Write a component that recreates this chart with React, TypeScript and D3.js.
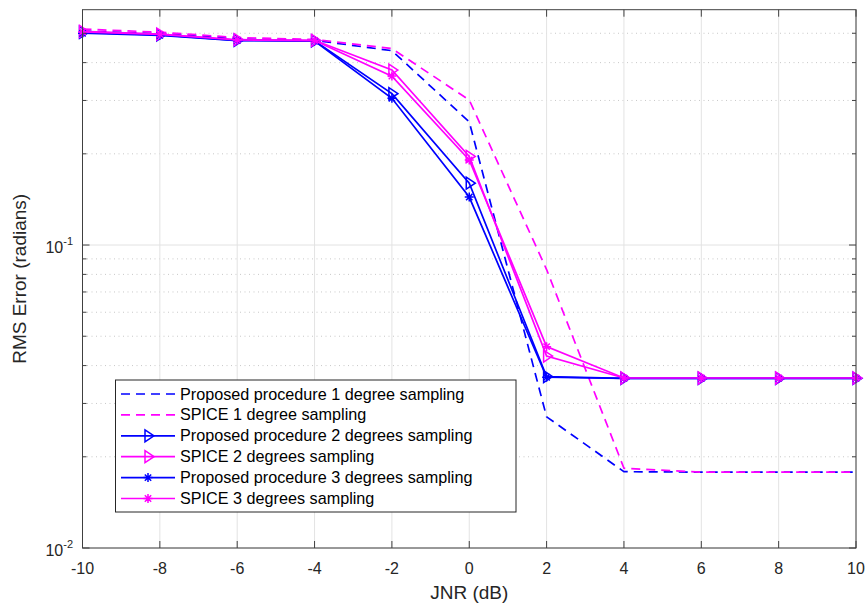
import React from "react";
import * as d3 from "d3";

const jnr = [-10, -8, -6, -4, -2, 0, 2, 4, 6, 8, 10];
const proposed1 = [0.508, 0.499, 0.479, 0.474, 0.438, 0.255, 0.0271, 0.01786, 0.0178, 0.0178, 0.0178];
const spice1 = [0.516, 0.504, 0.484, 0.477, 0.445, 0.301, 0.083, 0.01833, 0.0178, 0.0178, 0.0178];
const proposed2 = [0.503, 0.494, 0.474, 0.472, 0.316, 0.16, 0.0368, 0.0363, 0.0363, 0.0363, 0.0363];
const spice2 = [0.507, 0.497, 0.476, 0.474, 0.378, 0.196, 0.043, 0.0364, 0.0364, 0.0364, 0.0364];
const proposed3 = [0.5, 0.492, 0.473, 0.471, 0.305, 0.144, 0.0366, 0.0363, 0.0363, 0.0363, 0.0363];
const spice3 = [0.505, 0.496, 0.475, 0.473, 0.361, 0.191, 0.0462, 0.0364, 0.0364, 0.0364, 0.0364];

const seriesNames = [
  "Proposed procedure 1 degree sampling",
  "SPICE 1 degree sampling",
  "Proposed procedure 2 degrees sampling",
  "SPICE 2 degrees sampling",
  "Proposed procedure 3 degrees sampling",
  "SPICE 3 degrees sampling",
];
const xTicks = [-10, -8, -6, -4, -2, 0, 2, 4, 6, 8, 10];
const yMajorTicks = [0.01, 0.1];
const yMinorTicks = [0.02, 0.03, 0.04, 0.05, 0.06, 0.07, 0.08, 0.09, 0.2, 0.3, 0.4, 0.5];

const BLUE = "#0000ff";
const MAGENTA = "#ff00ff";
const FONT = "'Liberation Sans', Arial, Helvetica, sans-serif";

type Series = { name: string; values: number[]; color: string; dashed: boolean; marker: "none" | "tri" | "star" };

const series: Series[] = [
  { name: seriesNames[0], values: proposed1, color: BLUE, dashed: true, marker: "none" },
  { name: seriesNames[1], values: spice1, color: MAGENTA, dashed: true, marker: "none" },
  { name: seriesNames[2], values: proposed2, color: BLUE, dashed: false, marker: "tri" },
  { name: seriesNames[3], values: spice2, color: MAGENTA, dashed: false, marker: "tri" },
  { name: seriesNames[4], values: proposed3, color: BLUE, dashed: false, marker: "star" },
  { name: seriesNames[5], values: spice3, color: MAGENTA, dashed: false, marker: "star" },
];

const L = 82.5, R = 856, T = 9.7, B = 548;

function Marker({ kind, x, y, color }: { kind: string; x: number; y: number; color: string }) {
  if (kind === "tri") {
    const r = 6;
    return (
      <path
        d={`M${x + r},${y} L${x - r * 0.5},${y - r} L${x - r * 0.5},${y + r} Z`}
        fill="none"
        stroke={color}
        strokeWidth={1.5}
      />
    );
  }
  if (kind === "star") {
    const r = 4.5;
    const d = r * 0.7071;
    return (
      <path
        d={`M${x - r},${y} L${x + r},${y} M${x},${y - r} L${x},${y + r} M${x - d},${y - d} L${x + d},${y + d} M${x - d},${y + d} L${x + d},${y - d}`}
        stroke={color}
        strokeWidth={1.5}
        fill="none"
      />
    );
  }
  return null;
}

export default function App() {
  const x = d3.scaleLinear().domain([-10, 10]).range([L, R]);
  const y = d3.scaleLog().domain([0.01, 0.598]).range([B, T]);
  const line = d3
    .line<number>()
    .x((_, i) => x(jnr[i]))
    .y((v) => y(v));

  const legX = 115.5, legY = 380, legW = 400.5, legH = 132;
  const rowH = 20.9;

  return (
    <div style={{ position: "absolute", left: 0, top: 0 }}>
      <svg width={867} height={604} style={{ display: "block", background: "#fff" }} fontFamily={FONT}>
        <rect x={0} y={0} width={867} height={604} fill="#fff" />
        {yMinorTicks.map((t) => (
          <line key={"mg" + t} x1={L} x2={R} y1={y(t)} y2={y(t)} stroke="#c8c8c8" strokeWidth={1} strokeDasharray="1,3.5" />
        ))}
        {xTicks.map((t) => (
          <line key={"gx" + t} x1={x(t)} x2={x(t)} y1={T} y2={B} stroke="#e3e3e3" strokeWidth={1} />
        ))}
        {yMajorTicks.map((t) => (
          <line key={"gy" + t} x1={L} x2={R} y1={y(t)} y2={y(t)} stroke="#e3e3e3" strokeWidth={1} />
        ))}

        {series.map((s) => (
          <g key={s.name}>
            <path
              d={line(s.values) || ""}
              fill="none"
              stroke={s.color}
              strokeWidth={1.7}
              strokeDasharray={s.dashed ? "9,6" : undefined}
            />
            {s.marker !== "none" &&
              s.values.map((v, i) => <Marker key={i} kind={s.marker} x={x(jnr[i])} y={y(v)} color={s.color} />)}
          </g>
        ))}

        <rect x={L} y={T} width={R - L} height={B - T} fill="none" stroke="#404040" strokeWidth={1} />
        {xTicks.map((t) => (
          <g key={"tx" + t}>
            <line x1={x(t)} x2={x(t)} y1={B} y2={B - 7} stroke="#404040" />
            <line x1={x(t)} x2={x(t)} y1={T} y2={T + 7} stroke="#404040" />
            <text x={x(t)} y={573.5} textAnchor="middle" fontSize={16} fill="#262626">
              {t}
            </text>
          </g>
        ))}
        {yMajorTicks.map((t) => (
          <g key={"ty" + t}>
            <line x1={L} x2={L + 7} y1={y(t)} y2={y(t)} stroke="#404040" />
            <line x1={R} x2={R - 7} y1={y(t)} y2={y(t)} stroke="#404040" />
          </g>
        ))}
        {yMinorTicks.map((t) => (
          <g key={"tym" + t}>
            <line x1={L} x2={L + 4} y1={y(t)} y2={y(t)} stroke="#404040" />
            <line x1={R} x2={R - 4} y1={y(t)} y2={y(t)} stroke="#404040" />
          </g>
        ))}
        {yMajorTicks.map((t) => (
          <text key={"yl" + t} x={73} y={y(t) + 8} textAnchor="end" fontSize={16} fill="#262626">
            10
            <tspan dy={-8} fontSize={11}>
              {String(Math.round(Math.log10(t)))}
            </tspan>
          </text>
        ))}

        <text x={(L + R) / 2} y={599} textAnchor="middle" fontSize={19} fill="#262626">
          JNR (dB)
        </text>
        <text
          transform={`translate(26,${(T + B) / 2}) rotate(-90)`}
          textAnchor="middle"
          fontSize={19}
          fill="#262626"
        >
          RMS Error (radians)
        </text>

        <rect x={legX} y={legY} width={legW} height={legH} fill="#fff" stroke="#262626" strokeWidth={1} />
        {series.map((s, i) => {
          const cy = legY + 14 + i * rowH;
          return (
            <g key={"lg" + i}>
              <line
                x1={121}
                x2={175}
                y1={cy}
                y2={cy}
                stroke={s.color}
                strokeWidth={1.7}
                strokeDasharray={s.dashed ? "9,6" : undefined}
              />
              <Marker kind={s.marker} x={148} y={cy} color={s.color} />
              <text x={180} y={cy + 5.5} fontSize={16.2} fill="#000">
                {s.name}
              </text>
            </g>
          );
        })}
      </svg>
    </div>
  );
}
